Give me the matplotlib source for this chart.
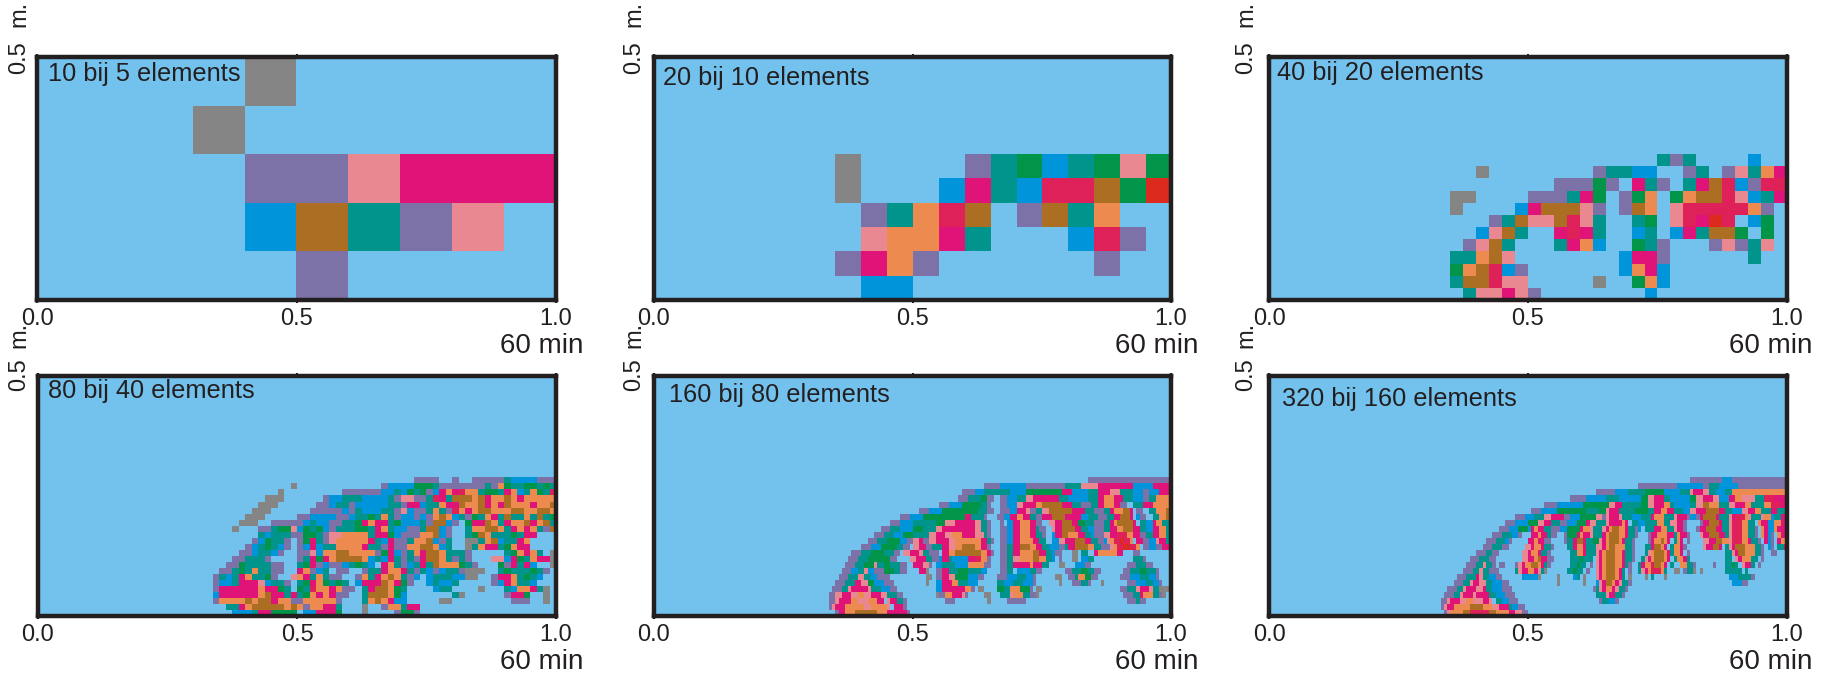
import re
import numpy as np
import matplotlib
matplotlib.use("Agg")
import matplotlib.pyplot as plt
from matplotlib.colors import ListedColormap

plt.rcParams['font.family'] = ['Liberation Sans', 'DejaVu Sans']

# colour codes used in the grids, b is the background
codes = "bgpomBrtGOcR"
colours = ["#73C2EE", "#858585", "#7D72A8", "#E98890", "#DF1378", "#0095DA",
           "#AC6E23", "#00948C", "#009548", "#EC8A50", "#DE2259", "#DD2A1F"]

titles = ["10 bij 5 elements", "20 bij 10 elements", "40 bij 20 elements",
          "80 bij 40 elements", "160 bij 80 elements", "320 bij 160 elements"]
tick_labels = ["0.0", "0.5", "1.0"]

# grids: row -> "start column:cells", run counts allowed (5p = ppppp)
grid_10 = {
    0: "4:g",
    1: "3:g",
    2: "4:ppommm",
    3: "4:Brtpo",
    4: "5:p",
}
grid_20 = {
    4: "7:g 12:ptGBtGoG",
    5: "7:g 11:BmtBccrGR",
    6: "8:ptOcr 14:prtO",
    7: "8:oOOmt 16:Bcp",
    8: "7:pmOp 17:p",
    9: "8:BB",
}
grid_40 = {
    8: "30:tpt 37:B",
    9: "16:g 25:pttBB 32:pt 35:potOm",
    10: "22:pppGp 28:mtp 32:tmrcBpcc",
    11: "14:gg 20:ppptmG 27:pGO 31:GOrrcoBtm",
    12: "14:g 19:Bmrrrop 27:prO 31:occcccOp",
    13: "17:ptroorcot 28:tG 31:ocmRc 37:BG",
    14: "16:Bort 22:mcmt 28:Bt 31:Bmtrr 36:G 38:G",
    15: "15:port 22:tmOB 28:Gtp 34:popto",
    16: "14:ttOro 27:Bmmp 37:t",
    17: "14:GOrcBp 27:BOmB",
    18: "14:trrcoo 25:g 28:GOB",
    19: "15:toomop 29:B",
}
grid_80 = {
    17: "58:4p 64:p 67:5p 72:tBBBB 77:3p",
    18: "39:g 53:p 54:BBBB 58:GGG 61:tp 63:ppp 66:ppp 69:t 70:pOGttGGtGtG",
    19: "37:g 47:6p 53:BBtB 57:GtGp 61:BmOmcOOtGGtmOBtOGtcOm",
    20: "35:ggg 44:p 45:BBtttBBBBtp 56:oopptcmtrrrOrmOOrOmOOOOOOr",
    21: "34:ggg 43:pp 45:BttpBBBBBtt 56:pmmBttOmmrOOrmOmrOOOmOOrrO",
    22: "33:ggg 42:pppp 46:pBp 49:tBBBttp 56:oBpp 60:tOtpcOmOrrOOOrrOOrrOOmmt",
    23: "32:ggg 40:pp 42:BBBBp 47:pBttGtOt 55:pBB 58:pBpOrOBtpGtOmtrttOtrtGmr",
    24: "31:ggg 36:4p 40:pBtBBp 46:pttGmOmmtGBBBt 60:prrBp 66:GmmrOtmOOrmOrtpGpm",
    25: "30:g 34:pp 36:tGGo 40:BGtGBp 46:tttGGtmOtBBpp 59:trrBp 66:tOOrrOtmOmOtp 79:r",
    26: "34:tBtttp 40:pGGtp 45:ooOOOOtmmG 55:Bppp 59:OOrBp 66:tGrOtttGtmm",
    27: "33:pBGttp 40:pGmtp 45:oOOOOOmtp 53:Bmpp 57:tOOrBpt 66:ggtOrBttmO",
    28: "32:pBtGtBp 40:pBmBtt 46:OOOOmtt 53:pmpp 57:OOrrOBt 66:gtOmmtGOmm",
    29: "31:ppBttBp 40:ppoBtt 44:OOrrOOOOp 53:GmB 56:ptOmrrOtttp 72:tGOmOt 79:g",
    30: "30:pptttp 40:ptmGpp 44:mOrrrrOBt 53:Bmtp 57:tpmrrOtptp 70:ooBmGtOmmOB 79:g",
    31: "29:ppGttttpp 40:tGmpBp 46:pBtGtB 53:mOtpB 58:tmtrOOOGtp 71:GpmtmB 79:g",
    32: "28:pptGtOttpp 40:mOpBt 46:pp 50:pttmOOmtp 59:tBpBtt 65:pggg 71:tGtttGtp",
    33: "27:ptBtmOttGp 39:oOmtOtpp 49:pOtmOrOtpB 60:BtttBBgg 70:pmmOtGtB",
    34: "27:pBBtmmmoBttp 40:tGmOGtGt 49:BmmmrOmGp 60:BtBBt 70:pBmOttB",
    35: "27:pmmmmmmOmmGt 40:GtcOOmOpp 50:tmrrOGt 61:Bt 63:t 68:g 72:tBOOmtB 78:g",
    36: "27:BmmmmmmOrmmtmg 40:tGOmOmpp 50:trrrOGB 64:tg 72:pmmG 78:g",
    37: "27:pOOOOrOrrmOOt 39:ppOOOOOp 50:tOrOmBB 62:gg 73:ppp 78:g",
    38: "29:ttmOrrrrrOrOBt 41:pOOmmt 50:g 53:pOOtmm",
    39: "30:BBBtmmGGGG 41:BBmmmG 50:g 55:pGGp",
}
# the two finest panels are read in bands of two rows of the 160 grid
grid_160 = {
    17: "134:26p",
    18: "102:5p 107:8B 115:12p 127:5t 132:5o 137:11m 148:6B 154:6m",
    19: "95:4p 99:3B 102:8t 110:5B 115:11G 126:3m 129:5B 134:3t 137:4m 141:3o 144:4t 148:3B 151:2p 153:3B 156:4m",
    20: "94:3p 97:4t 101:2G 103:2p 107:2p 109:3B 112:3t 115:2o 117:8m 125:3t 128:6B 134:3t 137:2m 139:3O 142:3m 145:3t 148:3B 151:2p 153:2t 155:5O",
    21: "88:3p 91:4B 95:6G 101:2t 103:p 107:2p 109:3B 112:2o 114:4m 118:2O 120:6r 126:3m 129:3t 132:3p 135:2t 137:2m 139:3O 142:2m 144:2p 148:3t 151:3m 154:6O",
    22: "82:3p 85:4B 89:11G 100:3t 103:2p 107:3p 110:2B 112:3m 115:o 116:2p 118:2t 120:2o 122:7r 129:4m 133:3t 136:3p 139:2t 141:m 142:3O 145:2r 147:m 149:2p 153:2t 155:3O 158:2r",
    23: "76:3p 79:4B 83:13G 96:2m 98:4t 102:p 106:2p 108:2B 110:2m 112:2O 114:2m 116:2t 118:2p 120:3m 123:4r 127:5m 132:2B 134:3t 137:3p 140:2t 142:2m 144:3r 147:m 149:B 150:2p 154:2t 156:2O 158:2r",
    24: "73:3p 76:4B 80:7t 87:3G 90:3o 93:6m 99:2o 101:2t 103:p 107:p 109:2B 111:2m 113:3O 116:2m 118:2p 122:2o 124:2m 126:3r 129:2m 131:2G 133:3t 136:3p 139:2t 141:mO 143:5r 148:m 150:2t 152:2B 154:m 155:2O 157:3t",
    25: "70:3p 73:3t 76:4B 80:3G 83:4t 87:2o 89:10m 99:2o 101:2t 103:p 107:2p 109:2B 111:2m 113:3O 116:2m 118:t 119:2p 123:o 124:2m 126:4r 130:2m 132:2t 134:2B 136:3p 139:2t 141:2m 143:2O 145:3r 148:2m 150:2t 152:2B 154:2m 156:2O 158:2t",
    26: "68:3p 71:3t 74:3B 77:3G 80:5t 85:2o 87:3m 90:2o 92:3O 95:4m 99:3o 102:tp 107:2p 109:2B 111:2m 113:3O 116:2m 118:2t 120:p 123:B 124:2m 126:2r 128:3O 131:2m 133:2t 135:B 136:3p 139:2o 141:2m 143:3c 146:2O 148:2m 150:2p 152:2t 154:2m 156:2O 158:2t",
    27: "66:3p 69:3t 72:4G 76:2B 78:2p 80:2o 82:m 83:2p 85:2o 87:4m 91:2o 93:8O 101:2m 103:tp 107:2p 109:2B 111:2m 113:4O 117:2m 119:2t 123:2B 125:2o 127:3m 130:3r 133:2m 135:2t 137:2p 139:BoO 142:2c 144:R 145:2c 147:O 149:2m 151:2p 153:2B 155:o 156:2m 158:2t",
    28: "64:3p 67:3B 70:5G 75:2t 77:2p 80:2o 82:2m 84:2p 86:3t 89:2m 91:2o 93:2O 95:4r 99:2O 101:2m 103:p 107:2p 109:2t 111:2m 113:3r 116:2O 118:2m 120:2t 122:3B 125:2p 127:t 128:2m 130:4r 134:2O 136:2t 138:3p 141:oO 143:2c 145:2R 147:2c 149:O 151:2p 153:2B 155:2p 157:2m",
    29: "61:3p 64:3t 67:4G 71:3t 74:2p 77:2o 79:3m 82:o 83:2t 85:3p 89:2m 91:2O 93:8r 101:2O 103:mp 107:2p 109:2t 111:2m 113:4O 117:2r 119:2m 121:2t 123:B 124:2p 129:2g 132:2t 136:m 137:6O 143:2m 148:2p",
    30: "60:3p 63:3t 66:7G 73:2p 79:2o 81:3m 84:2t 86:2p 88:B 89:2m 91:t 92:5B 97:2m 99:2c 101:2O 103:p 107:2p 109:2t 111:2o 113:4O 117:2r 119:2O 121:2t 123:B 125:p 129:2g 132:2B 134:2t 148:3t 151:p",
    31: "59:3p 62:3t 65:3G 68:o 69:2t 71:2G 73:3t 76:2p 80:3m 83:2o 85:p 87:2B 89:4t 93:4B 97:5O 102:2p 107:2p 109:2t 111:5m 116:O 117:3m 120:2t 125:2g 130:3B 133:2p 146:3p 149:3t 152:2p",
    32: "58:3p 61:2B 63:2t 65:o 66:2B 68:3p 71:3G 74:2t 76:2p 82:2m 84:g 87:2p 89:2m 91:3t 94:3G 97:4t 101:2B 107:2p 109:2t 112:4B 116:3t 118:2p 127:2p 129:3t 132:2G 134:2t 136:2p 145:2p 147:3t 150:2G 152:3t 155:p",
    33: "57:3p 60:3t 63:2o 65:2t 67:2B 69:4p 84:2g 87:2p 89:2m 91:2o 93:4G 97:3B 100:2p 106:3p 109:3B 112:3t 115:2B 117:p 124:2g 128:2p 130:t 131:2O 133:2G 135:2p 144:3p 147:3B 150:3t 153:2B 155:p",
    34: "56:3p 59:3t 62:2m 64:2o 66:2G 68:3B 71:3p 84:g 87:2B 89:3m 92:2O 94:3t 97:3B 106:2t 108:3B 111:3t 114:3B 117:p 125:g 129:3p 132:2t 134:p 138:g 146:3p 149:3B 152:2t 154:2B 156:p",
    35: "55:3p 58:2t 60:o 61:5m 66:o 67:3t 70:3B 73:2p 87:2B 89:7m 96:2O 98:p 100:2g 106:2G 108:2t 110:3O 113:3G 116:p 118:2g 144:2p 146:3t 149:o 150:3m 153:o 154:2t 156:g 157:2g",
    36: "54:2p 56:2o 58:3m 61:2o 63:2O 65:2o 67:3m 70:2o 72:3t 75:2p 87:g 88:2p 90:2O 92:3m 95:op 102:2g 107:3t 110:o 111:3O 114:2t 116:2p 118:g 145:3p 148:2t 150:m 151:3O 154:2t 156:p 157:g",
    37: "54:2p 56:o 57:4m 61:2O 63:3o 66:3O 69:2m 72:o 73:2m 75:2t 77:p 90:3p 103:g 109:3p 112:3p 146:3p 149:tpp",
    38: "54:p 55:o 56:3m 59:6O 65:2o 67:3O 70:2O 72:o 74:3m 77:p",
    39: "56:p 57:2m 59:3O 62:7r 69:3O 72:6m 78:p",
}
grid_320 = {
    17: "130:10p 140:3B 143:17p",
    18: "114:12p 126:8B 134:2p 136:3t 139:6B 145:15p",
    19: "101:6p 107:4B 111:5t 116:6G 122:5B 127:3t 130:o 131:3m 134:2o 136:2t 138:3B 141:2t 143:17O",
    20: "93:5p 98:6B 104:4t 108:7B 115:2G 117:2o 119:3m 122:2t 124:6B 130:2G 132:2o 134:3m 137:2o 139:3B 142:2m 144:2O 146:4o 150:3t 153:3c 156:4m",
    21: "85:4p 89:8B 97:8G 105:2o 107:2m 109:6t 115:2G 117:2o 119:3m 122:2O 124:t 125:5B 130:2t 132:2o 134:2r 136:3O 139:3t 142:2o 144:3m 147:2O 149:4t 153:2O 155:3c 158:2m",
    22: "81:3p 84:5B 89:9G 98:4t 102:2G 104:o 105:3m 108:5t 113:4G 117:2t 119:2m 121:2O 123:2m 125:3t 128:2B 130:2o 132:3m 135:4r 139:2m 141:2t 143:3B 146:2o 148:2m 150:2O 152:3t 155:2m 157:3t",
    23: "76:3p 79:3B 82:3t 85:2o 87:4m 91:2p 93:3B 96:5G 101:2o 103:p 104:o 105:3m 108:o 109:3t 112:3B 115:3t 118:m 119:3O 122:2t 124:tom 126:3m 129:p 130:2B 132:p 133:m 134:4r 138:m 139:3t 142:o 143:m 144:3c 147:Oo 149:3t 152:o 153:2O 155:B 156:2t 158:2m",
    24: "73:3p 76:4B 80:3G 83:2o 85:2m 87:3t 90:2p 92:3B 95:3G 98:m 99:2o 101:3t 104:o 105:4m 109:Om 112:2t 114:2B 116:4t 120:2O 122:2t 124:2o 126:2m 128:p 133:p 134:2m 136:3r 139:m 140:2t 142:o 143:3c 146:2O 148:2t 151:O 152:2m 154:2B 156:2O 158:2m",
    25: "71:3p 74:3B 77:3G 80:B 81:m 82:O 83:2m 85:2t 87:3p 90:2B 92:4G 96:m 97:2O 99:o 100:3t 103:om 105:O 106:2r 108:2O 110:m 111:2t 113:p 114:B 116:3t 119:2m 121:2O 123:2t 125:o 126:2m 128:p 132:p 133:2m 135:3r 138:2m 140:2t 142:o 143:3c 146:2O 148:2t 150:p 152:O 153:m 154:2B 156:O 157:3m",
    26: "69:3p 72:3t 75:2B 77:p 81:2m 83:O 84:2m 86:t 87:2p 91:p 92:3G 95:m 96:O 97:2m 99:o 100:3t 103:m 104:O 105:3r 108:2O 110:m 111:2t 113:p 117:p 118:2m 120:3O 123:2m 125:tO 127:2m 129:p 133:o 134:2m 136:3r 139:2m 141:t 142:o 143:3c 146:2O 148:2t 150:p 152:O 153:m 154:B 155:p 157:O 158:2m",
    27: "67:3p 70:3t 73:B 74:p 80:2m 82:O 83:2m 85:2p 91:p 92:2t 94:m 95:2r 97:m 98:2t 100:2G 102:o 103:m 104:O 105:3r 108:O 109:m 110:2t 112:p 117:p 118:m 119:2O 121:r 122:O 123:m 125:t 126:O 127:m 129:p 134:2o 136:2m 138:2r 140:2O 142:o 143:3c 146:2O 148:m 149:2t 151:p 153:m 154:B 155:p 157:m 158:2O",
    28: "66:3p 69:3t 72:p 73:p 79:2o 81:m 82:2O 84:m 85:2t 87:p 92:2t 94:m 95:2O 97:m 98:3t 101:2o 103:m 104:O 105:2r 107:3O 110:2t 112:p 116:2t 118:m 119:2r 121:O 122:m 124:t 125:2O 127:m 128:p 134:o 135:2m 137:2r 139:m 141:t 142:o 143:m 144:3r 147:3O 150:2t 152:p 154:B 155:p 157:2t 159:m",
    29: "64:3p 67:2t 69:2p 78:2o 80:m 81:2O 83:m 84:2t 86:p 93:2t 95:2O 97:m 98:2t 100:t 101:o 102:m 103:O 104:3r 107:2O 109:m 110:2t 112:p 116:t 117:o 118:O 119:3r 122:O 123:m 124:t 125:2O 127:m 129:p 141:2t 143:o 144:m 145:2r 147:3O 150:2t 152:p 155:2p",
    30: "62:3p 65:3t 68:p 69:p 78:2o 80:2m 82:O 83:r 84:2m 86:2p 93:t 94:2t 96:G 97:2t 99:t 101:o 102:m 103:O 104:3r 107:2O 109:m 110:2t 112:p 115:t 116:o 117:m 118:O 119:3r 122:O 123:m 125:t 126:2O 128:m 129:t 141:2t 144:o 145:m 146:3O 149:t 150:t 152:p",
    31: "61:3p 64:2t 66:o 67:2t 69:p 71:2p 76:p 77:o 78:m 79:2O 81:2r 83:O 84:m 85:t 86:p 93:2t 95:G 96:2t 99:p 101:o 102:m 103:O 104:3r 107:2O 109:m 110:t 111:p 114:t 115:m 116:2O 118:c 119:2r 121:O 122:m 124:t 127:2O 129:2t 131:p 137:p 141:2t 143:G 144:t 146:o 147:2m 149:t 151:p",
    32: "60:3p 63:2t 65:o 66:2t 68:3p 76:t 77:o 78:2m 80:2O 82:m 83:o 84:t 85:g 92:2t 94:G 95:2t 98:p 101:o 102:m 103:O 104:3r 107:O 108:m 109:t 111:p 114:t 115:o 116:m 117:O 118:3c 121:O 122:t 125:2g 128:p 129:2t 131:g 133:g 141:3t 144:2t 147:t",
    33: "58:3p 61:3t 64:m 65:o 66:2t 68:2B 70:2p 78:6B 83:g 89:g 94:B 95:t 97:g 101:o 102:m 103:O 104:3r 107:O 108:m 109:t 111:g 116:g 118:t 122:g 142:3B 145:4t 149:p",
    34: "57:3p 60:2t 62:o 63:2m 65:2o 67:2t 69:3B 72:2p 89:g 97:g 101:B 102:o 103:m 104:2r 106:O 107:m 108:o 109:2t 111:p 143:3B 146:2p",
    35: "55:3p 58:2t 60:o 61:3m 64:2o 66:m 67:2t 69:3B 72:3p 100:p 101:t 102:o 103:m 104:2O 106:m 107:o 108:2t 110:p",
    36: "54:3p 57:2t 59:o 60:3m 63:o 64:3m 67:m 68:2t 70:3B 73:3p 101:3t 104:o 105:2m 107:2t 109:p",
    37: "53:2p 55:o 56:3m 59:2o 61:2O 63:3o 66:2m 68:o 70:2t 72:2B 74:3p 102:p 103:2t 105:2B 107:p",
    38: "53:p 54:o 55:2m 57:5O 62:4r 66:3O 69:2o 71:3m 74:t 75:2B 77:2p",
    39: "54:p 55:o 56:4O 60:2r 62:6c 68:2r 70:4O 74:2m 76:2o 78:2p",
}
grids = [(grid_10, 10, 5), (grid_20, 20, 10), (grid_40, 40, 20),
         (grid_80, 80, 40), (grid_160, 160, 40), (grid_320, 160, 40)]


def build(rows, nx, ny):
    out = np.zeros((ny, nx), dtype=int)
    for r, txt in rows.items():
        for part in txt.split():
            start, body = part.split(":")
            col = int(start)
            for n, ch in re.findall(r"(\d*)([a-zA-Z])", body):
                n = int(n) if n else 1
                out[r, col:col + n] = codes.index(ch)
                col += n
    return out


W, H = 1825, 675
# axes boxes in pixels: left, right, top, bottom
lefts = [37, 654, 1269, 38, 654, 1269]
rights = [556, 1171, 1787, 556, 1171, 1787]
tops = [57, 57, 57, 376, 376, 376]
bots = [300, 300, 300, 616, 616, 616]
title_xy = [(48, 74), (663, 78), (1277, 73), (48, 391), (669, 395), (1282, 399)]
ylab_x = [19, 634, 1246, 19, 634, 1246]
mlab_y = [14, 14, 14, 335, 335, 335]
ylab_y = [58, 58, 58, 375, 375, 375]
min_y = [346, 346, 346, 662, 662, 662]
min_x = [583, 1198, 1812, 583, 1198, 1812]

fig = plt.figure(figsize=(W / 100, H / 100), dpi=100)
cmap = ListedColormap(colours)
ink = "#231F20"

for i, (rows, nx, ny) in enumerate(grids):
    ax = fig.add_axes([lefts[i] / W, 1 - bots[i] / H,
                       (rights[i] - lefts[i]) / W, (bots[i] - tops[i]) / H])
    data = build(rows, nx, ny)
    ax.imshow(data, cmap=cmap, vmin=0, vmax=len(colours) - 1, aspect="auto",
              interpolation="nearest", extent=[0, 1, 0, 0.5])
    for s in ax.spines.values():
        s.set_linewidth(3.2)
        s.set_color(ink)
    ax.set_xticks([0, 0.5, 1.0])
    ax.set_xticklabels(tick_labels, fontsize=17, color=ink)
    ax.tick_params(axis="x", length=2, width=1.5, pad=4, top=True, color=ink)
    ax.set_yticks([])
    fig.text(title_xy[i][0] / W, 1 - title_xy[i][1] / H, titles[i], fontsize=18.3, color=ink,
             ha="left", va="center")
    fig.text(ylab_x[i] / W, 1 - ylab_y[i] / H, "0.5", rotation=90, fontsize=17, color=ink,
             ha="center", va="center")
    fig.text(ylab_x[i] / W, 1 - mlab_y[i] / H, "m.", rotation=90, fontsize=17, color=ink,
             ha="center", va="center")
    fig.text(min_x[i] / W, 1 - min_y[i] / H, "60 min", fontsize=20, color=ink,
             ha="right", va="center")

fig.savefig("out.png", dpi=100, facecolor="white")
